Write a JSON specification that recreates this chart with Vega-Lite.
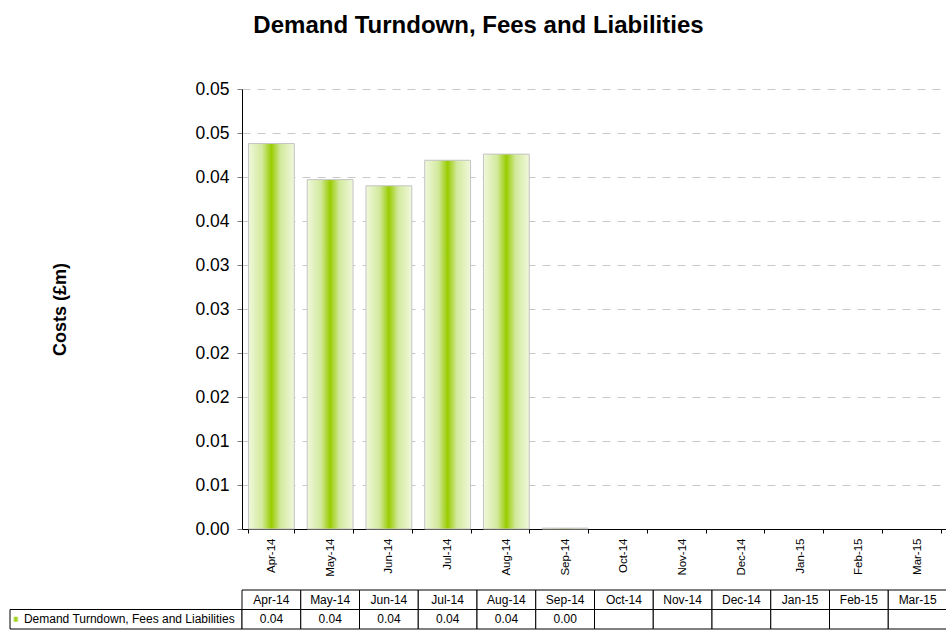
{
  "$schema": "https://vega.github.io/schema/vega-lite/v6.json",
  "title": {"text": "Demand Turndown, Fees and Liabilities", "fontSize": 24, "fontWeight": "bold", "font": "Liberation Sans", "color": "#000000", "anchor": "middle", "offset": 42.5},
  "padding": {"left": 9, "top": 13, "right": 0, "bottom": 0},
  "background": "#ffffff",
  "datasets": {
    "costs": [
      {"month": "Apr-14", "value": 0.0438},
      {"month": "May-14", "value": 0.0397},
      {"month": "Jun-14", "value": 0.0390},
      {"month": "Jul-14", "value": 0.0419},
      {"month": "Aug-14", "value": 0.0426},
      {"month": "Sep-14", "value": 0.0001},
      {"month": "Oct-14", "value": null},
      {"month": "Nov-14", "value": null},
      {"month": "Dec-14", "value": null},
      {"month": "Jan-15", "value": null},
      {"month": "Feb-15", "value": null},
      {"month": "Mar-15", "value": null}
    ],
    "series": [{"series": "Demand Turndown, Fees and Liabilities"}]
  },
  "columns": 2,
  "align": "each",
  "bounds": "flush",
  "spacing": {"row": 61, "column": 0},
  "concat": [
    {
      "width": 232,
      "height": 440,
      "data": {"values": []},
      "mark": {"type": "point", "opacity": 0},
      "encoding": {}
    },
    {
      "width": 705,
      "height": 440,
      "data": {"name": "costs"},
      "mark": {
        "type": "bar",
        "stroke": "#c4c4c4",
        "strokeWidth": 1,
        "fill": {
          "gradient": "linear", "x1": 0, "y1": 0, "x2": 1, "y2": 0,
          "stops": [
            {"offset": 0, "color": "#f0f8dc"},
            {"offset": 0.3, "color": "#d2e99c"},
            {"offset": 0.5, "color": "#99cc00"},
            {"offset": 0.7, "color": "#d2e99c"},
            {"offset": 1, "color": "#f0f8dc"}
          ]
        }
      },
      "encoding": {
        "x": {
          "field": "month", "type": "nominal", "sort": null,
          "scale": {
            "domain": ["Apr-14", "May-14", "Jun-14", "Jul-14", "Aug-14", "Sep-14", "Oct-14", "Nov-14", "Dec-14", "Jan-15", "Feb-15", "Mar-15"],
            "paddingInner": 0.22, "paddingOuter": 0.11
          },
          "axis": {
            "title": null, "labelAngle": 270, "labelFontSize": 11.5, "labelFont": "Liberation Sans", "labelColor": "#000000",
            "tickBand": "extent", "tickSize": 4, "tickColor": "#000000", "domainColor": "#000000", "labelPadding": 5, "grid": false
          }
        },
        "y": {
          "field": "value", "type": "quantitative",
          "scale": {"domain": [0, 0.05], "nice": false},
          "axis": {
            "title": "Costs (£m)", "titleFontSize": 18, "titleFontWeight": "bold", "titleFont": "Liberation Sans", "titleColor": "#000000", "titlePadding": 125,
            "values": [0, 0.005, 0.01, 0.015, 0.02, 0.025, 0.03, 0.035, 0.04, 0.045, 0.05],
            "labelExpr": "format(datum.value + 1e-9, '.2f')",
            "labelFontSize": 17.5, "labelFont": "Liberation Sans", "labelColor": "#000000", "labelPadding": 8,
            "tickSize": 5, "tickColor": "#7f7f7f", "domainColor": "#000000",
            "grid": true, "gridColor": "#c8c8c8", "gridDash": [8, 7], "gridWidth": 1
          }
        }
      }
    },
    {
      "width": 232,
      "height": 39,
      "data": {"name": "series"},
      "layer": [
        {
          "mark": {"type": "rect", "fill": "#ffffff", "stroke": "#000000", "strokeWidth": 1},
          "encoding": {
            "x": {"datum": 0, "type": "quantitative", "scale": {"domain": [0, 1]}, "axis": null},
            "x2": {"datum": 1},
            "y": {"datum": "data", "type": "nominal", "scale": {"domain": ["header", "data"], "paddingInner": 0, "paddingOuter": 0}, "axis": null}
          }
        },
        {
          "mark": {
            "type": "point", "shape": "square", "size": 25, "filled": true, "opacity": 1,
            "fill": {
              "gradient": "linear", "x1": 0, "y1": 0, "x2": 1, "y2": 0,
              "stops": [
                {"offset": 0, "color": "#d2e99c"},
                {"offset": 0.5, "color": "#99cc00"},
                {"offset": 1, "color": "#d2e99c"}
              ]
            }
          },
          "encoding": {
            "x": {"datum": 0.025, "type": "quantitative"},
            "y": {"datum": "data", "type": "nominal"}
          }
        },
        {
          "mark": {"type": "text", "align": "left", "baseline": "middle", "fontSize": 12, "font": "Liberation Sans", "color": "#000000"},
          "encoding": {
            "x": {"datum": 0.06, "type": "quantitative"},
            "y": {"datum": "data", "type": "nominal"},
            "text": {"field": "series"}
          }
        }
      ]
    },
    {
      "width": 705,
      "height": 39,
      "data": {"name": "costs"},
      "encoding": {
        "x": {"field": "month", "type": "nominal", "sort": null, "scale": {"paddingInner": 0, "paddingOuter": 0}, "axis": null}
      },
      "layer": [
        {
          "mark": {"type": "rect", "fill": "#ffffff", "stroke": "#000000", "strokeWidth": 1},
          "encoding": {
            "y": {"datum": "header", "type": "nominal", "scale": {"domain": ["header", "data"], "paddingInner": 0, "paddingOuter": 0}, "axis": null}
          }
        },
        {
          "mark": {"type": "rect", "fill": "#ffffff", "stroke": "#000000", "strokeWidth": 1},
          "encoding": {
            "y": {"datum": "data", "type": "nominal"}
          }
        },
        {
          "mark": {"type": "text", "fontSize": 12, "font": "Liberation Sans", "color": "#000000", "baseline": "middle"},
          "encoding": {
            "y": {"datum": "header", "type": "nominal"},
            "text": {"field": "month"}
          }
        },
        {
          "transform": [{"filter": "datum.value != null"}],
          "mark": {"type": "text", "fontSize": 12, "font": "Liberation Sans", "color": "#000000", "baseline": "middle"},
          "encoding": {
            "y": {"datum": "data", "type": "nominal"},
            "text": {"field": "value", "type": "quantitative", "format": ".2f"}
          }
        }
      ]
    }
  ],
  "config": {
    "view": {"stroke": null},
    "font": "Liberation Sans"
  }
}
